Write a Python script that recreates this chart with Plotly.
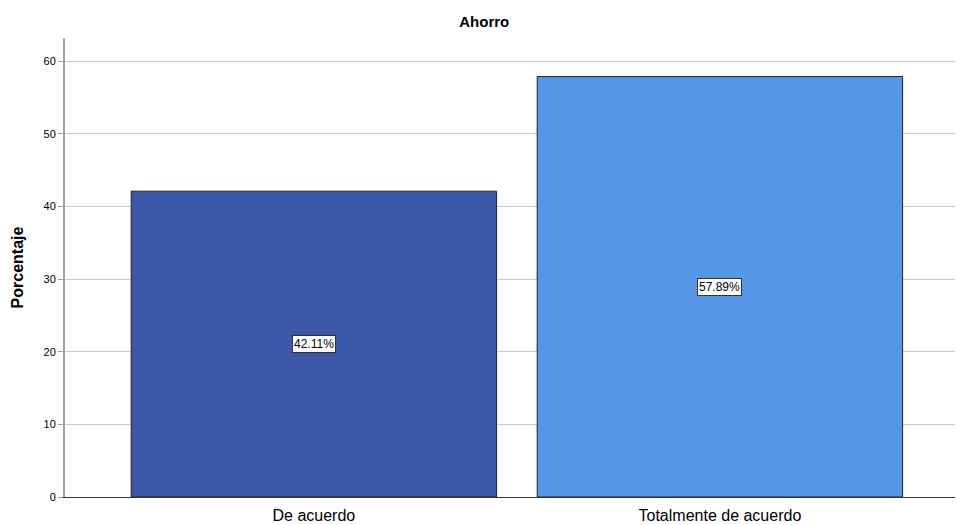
import plotly.graph_objects as go

categories = ["De acuerdo", "Totalmente de acuerdo"]
percentages = [42.11, 57.89]
bar_colors = ["#3E58A8", "#5596E6"]
y_ticks = [0, 10, 20, 30, 40, 50, 60]

fig = go.Figure()
fig.add_trace(go.Bar(
    x=list(range(len(categories))),
    y=percentages,
    width=0.9,
    marker=dict(color=bar_colors, line=dict(color="#222222", width=1)),
    hoverinfo="skip",
))

for i, v in enumerate(percentages):
    fig.add_annotation(
        x=i, y=v / 2, text=f"{v:.2f}%", showarrow=False,
        font=dict(family="Liberation Sans, Arial", size=12, color="#000000"),
        bgcolor="#ffffff", bordercolor="#333333", borderwidth=1, borderpad=1,
    )

fig.update_layout(
    width=957, height=525,
    margin=dict(l=65, r=2, t=38, b=28),
    paper_bgcolor="#ffffff", plot_bgcolor="#ffffff",
    showlegend=False,
    title=dict(text="<b>Ahorro</b>", x=0.506, xanchor="center", y=0.958, yanchor="middle",
               font=dict(family="Liberation Sans, Arial", size=15, color="#000000")),
    xaxis=dict(
        tickmode="array", tickvals=list(range(len(categories))), ticktext=categories,
        range=[-0.613, 1.579], showgrid=False, zeroline=False,
        showline=True, linecolor="#333333", linewidth=1,
        ticks="", ticklabelstandoff=4,
        tickfont=dict(family="Liberation Sans, Arial", size=16, color="#000000"),
    ),
    yaxis=dict(
        range=[0, 63.2], tickvals=y_ticks, showgrid=True, gridcolor="#c8c8c8", gridwidth=1,
        zeroline=False, showline=True, linecolor="#a0a0a0", linewidth=2,
        ticks="outside", ticklen=5, tickcolor="#a0a0a0",
        tickfont=dict(family="Liberation Sans, Arial", size=11, color="#000000"),
        title=dict(text="<b>Porcentaje</b>", standoff=16,
                   font=dict(family="Liberation Sans, Arial", size=16, color="#000000")),
    ),
)

fig.write_html("out.html")
